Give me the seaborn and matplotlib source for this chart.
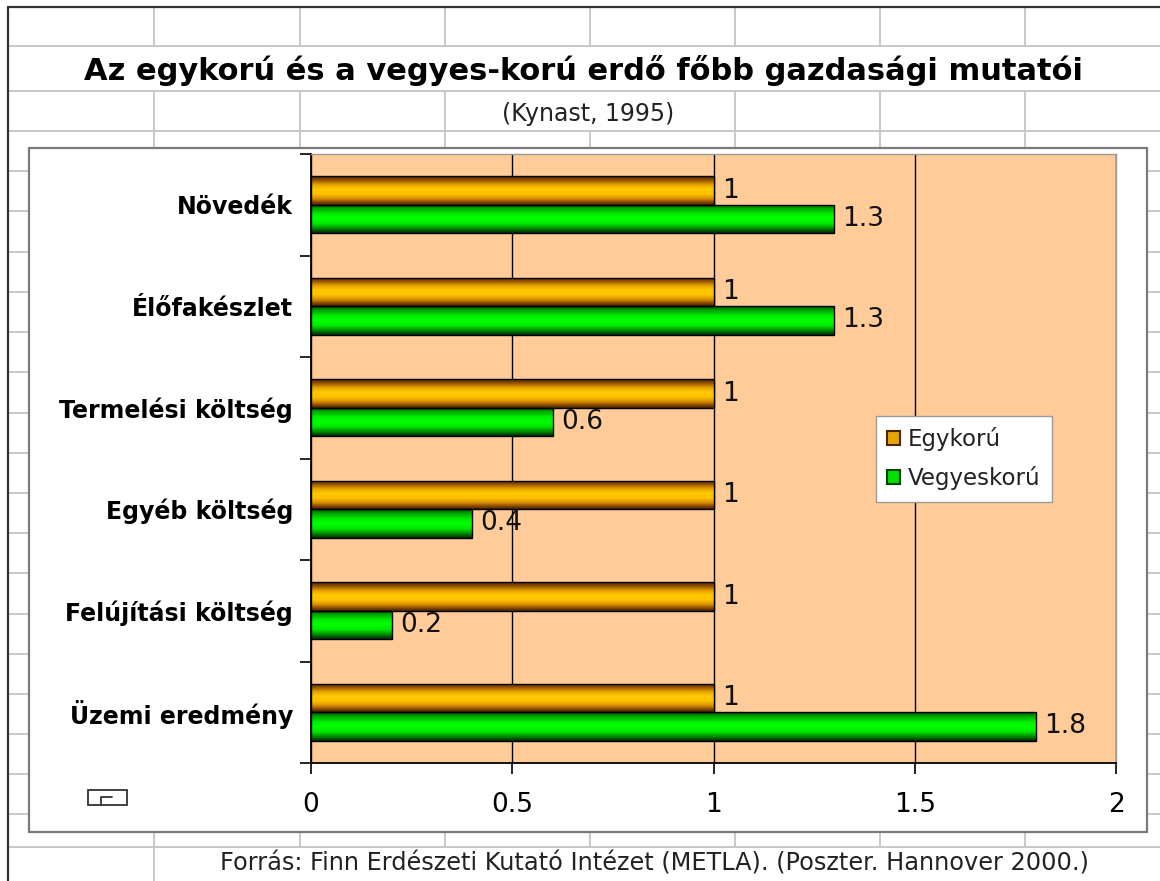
import numpy as np
import pandas as pd
import matplotlib
matplotlib.use("Agg")
import matplotlib.pyplot as plt
from matplotlib.colors import LinearSegmentedColormap
from matplotlib.patches import Rectangle, Patch
import seaborn as sns

# ---------------- data ----------------
categories = ["Növedék", "Élőfakészlet", "Termelési költség",
              "Egyéb költség", "Felújítási költség", "Üzemi eredmény"]
series = ["Egykorú", "Vegyeskorú"]
egykoru = [1, 1, 1, 1, 1, 1]
vegyeskoru = [1.3, 1.3, 0.6, 0.4, 0.2, 1.8]
xticks = [0, 0.5, 1, 1.5, 2]
xticklabels = ["0", "0.5", "1", "1.5", "2"]

title = "Az egykorú és a vegyes-korú erdő főbb gazdasági mutatói"
subtitle = "(Kynast, 1995)"
footer = "Forrás: Finn Erdészeti Kutató Intézet (METLA). (Poszter. Hannover 2000.)"

df = pd.DataFrame({
    "kategoria": categories * 2,
    "sorozat": [series[0]] * len(categories) + [series[1]] * len(categories),
    "ertek": egykoru + vegyeskoru,
})

# ---------------- style ----------------
sns.set_style("white")
plt.rcParams["font.family"] = ["DejaVu Sans"]

W, H = 1160, 881
fig = plt.figure(figsize=(W / 100, H / 100), dpi=100)
fig.patch.set_facecolor("white")

# background "spreadsheet" layer in pixel coordinates
bg = fig.add_axes([0, 0, 1, 1])
bg.set_xlim(0, W)
bg.set_ylim(H, 0)
bg.axis("off")

gridc = "#c8c8c8"
cols = [154, 300, 445, 590, 735, 880, 1025]
rows = [46, 91, 131, 171, 211, 252, 292, 332, 372, 413, 453, 493, 533,
        573, 614, 654, 694, 734, 774, 814, 847]
for y in rows:
    bg.plot([8, W], [y, y], color=gridc, lw=1.4, zorder=1)
for x in cols:
    bg.plot([x, x], [7, 46], color=gridc, lw=1.4, zorder=1)
    if x != 590:
        bg.plot([x, x], [91, 131], color=gridc, lw=1.4, zorder=1)
    bg.plot([x, x], [131, 847], color=gridc, lw=1.4, zorder=1)
    if x == 154:
        bg.plot([x, x], [847, H], color=gridc, lw=1.4, zorder=1)
bg.plot([8, W], [7, 7], color="#333333", lw=1.6, zorder=2)
bg.plot([8, 8], [7, H], color="#333333", lw=1.6, zorder=2)

# chart box
bg.add_patch(Rectangle((29, 148), 1147 - 29, 832 - 148, facecolor="white",
                       edgecolor="#7a7a7a", lw=1.6, zorder=3))
# small icon in chart corner
bg.add_patch(Rectangle((88, 790), 39, 15, facecolor="white",
                       edgecolor="#333333", lw=1.3, zorder=4))
bg.plot([101, 101, 112], [805, 797, 797], color="#333333", lw=1.3, zorder=4)

# titles
fig.text(584 / W, 1 - 71 / H, title, ha="center", va="center",
         fontsize=22, fontweight="bold", color="black")
fig.text(588 / W, 1 - 114 / H, subtitle, ha="center", va="center",
         fontsize=17, color="#222222")
fig.text(655 / W, 1 - 864 / H, footer, ha="center", va="center",
         fontsize=17.3, color="#222222")

# ---------------- main plot ----------------
L, R, T, B = 311, 1116, 154, 763
ax = fig.add_axes([L / W, 1 - B / H, (R - L) / W, (B - T) / H])
ax.set_facecolor("#ffcc99")

sns.barplot(data=df, y="kategoria", x="ertek", hue="sorozat",
            order=categories, hue_order=series, orient="h",
            palette=["#ffc400", "#00ff00"], width=0.56, legend=False,
            edgecolor="black", linewidth=1.0, saturation=1, ax=ax)

cmaps = [
    LinearSegmentedColormap.from_list("org", [
        (0.0, "#4a2600"), (0.12, "#8c4a00"), (0.3, "#e8a400"),
        (0.45, "#ffc800"), (0.62, "#ffc200"), (0.78, "#d89000"),
        (0.9, "#8c4a00"), (1.0, "#4a2600")]),
    LinearSegmentedColormap.from_list("grn", [
        (0.0, "#005000"), (0.15, "#00a800"), (0.35, "#00f000"),
        (0.5, "#00ff00"), (0.68, "#00e800"), (0.85, "#008a00"),
        (1.0, "#002a00")]),
]
grad = np.linspace(0, 1, 96).reshape(-1, 1)
for cont, cmap in zip(ax.containers, cmaps):
    for bar in cont:
        x0, y0 = bar.get_x(), bar.get_y()
        w, h = bar.get_width(), bar.get_height()
        im = ax.imshow(cmap(grad), extent=[x0, x0 + w, y0 + h, y0],
                       origin="upper", aspect="auto",
                       interpolation="bilinear", zorder=2.5)
        im.set_clip_path(bar)
        bar.set_facecolor("none")
        bar.set_zorder(3)
    ax.bar_label(cont, fmt="{:g}", padding=6, fontsize=19, color="#111111")

ax.set_xlim(0, 2)
ax.set_ylim(len(categories) - 0.5, -0.5)
ax.set_xticks(xticks)
ax.set_xticklabels(xticklabels)
ax.set_xlabel("")
ax.set_ylabel("")

# vertical gridlines
ax.set_axisbelow(True)
ax.xaxis.grid(True, color="black", lw=1.0)
ax.yaxis.grid(False)

ax.tick_params(axis="x", direction="out", length=8, width=1.2,
               colors="black", labelsize=19, pad=13, bottom=True)
ax.tick_params(axis="y", which="major", length=0, pad=13, labelsize=17,
               labelcolor="black")
for lab in ax.get_yticklabels():
    lab.set_fontweight("bold")
ax.set_yticks(np.arange(-0.5, len(categories), 1.0), minor=True)
ax.tick_params(axis="y", which="minor", direction="out", length=8,
               width=1.2, color="black", left=True)

for side in ["left", "bottom"]:
    ax.spines[side].set_color("black")
    ax.spines[side].set_linewidth(1.3)
for side in ["top", "right"]:
    ax.spines[side].set_color("#9a9a9a")
    ax.spines[side].set_linewidth(1.0)

# legend
handles = [Patch(facecolor="#e8a400", edgecolor="#4a2600", lw=1.5),
           Patch(facecolor="#00e000", edgecolor="#004000", lw=1.5)]
leg = fig.legend(handles, series, loc="upper left",
                 bbox_to_anchor=(876 / W, 1 - 416 / H),
                 fontsize=16.5, frameon=True, fancybox=False, framealpha=1,
                 handlelength=0.55, handleheight=0.55, handletextpad=0.35,
                 labelspacing=0.65, borderpad=0.5, borderaxespad=0)
leg.get_frame().set_edgecolor("#9a9a9a")
leg.get_frame().set_linewidth(1.0)
leg.get_frame().set_facecolor("white")
for t in leg.get_texts():
    t.set_color("#222222")

fig.savefig("out.png", dpi=100)
